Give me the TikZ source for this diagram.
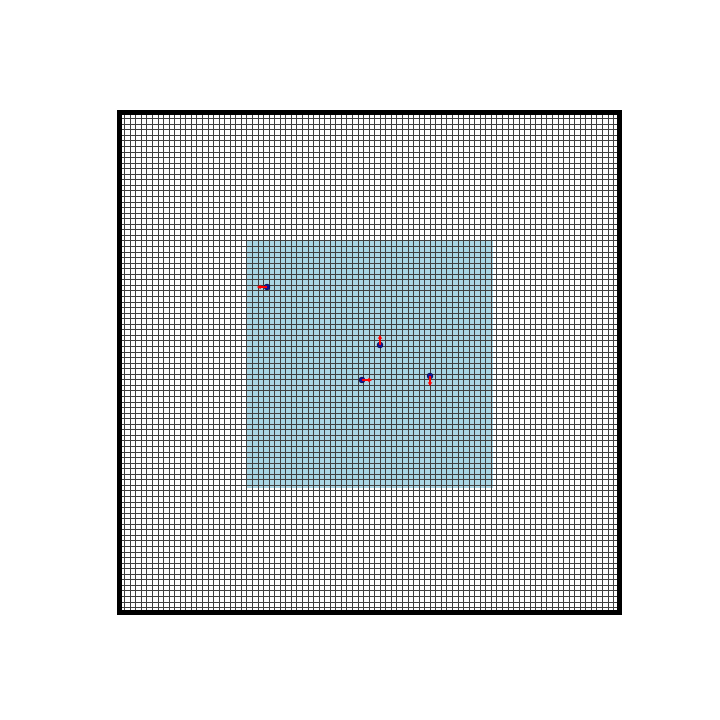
\documentclass[tikz,border=0pt]{standalone}
\usetikzlibrary{arrows.meta}
\definecolor{regionblue}{RGB}{170,214,228}
\definecolor{dotblue}{RGB}{20,20,150}
\tikzset{
  gridline/.style={line width=0.6pt, draw=black!75},
  frame/.style={line width=5pt, draw=black},
  particle/.style={circle, fill=dotblue, draw=black!80!blue, line width=0.4pt, inner sep=0pt, minimum size=6pt},
  vel/.style={draw=red, line width=1.6pt, -{Stealth[length=4pt,width=4.5pt]}}
}
\begin{document}
\begin{tikzpicture}[x=1pt,y=1pt]
\useasboundingbox (0,0) rectangle (720,720);
\fill[white] (0,0) rectangle (720,720);
% highlighted region
\fill[regionblue] (246,232) rectangle (493,479);
% grid (90 x 90 cells)
\foreach \i in {0,...,90} {
  \pgfmathsetmacro{\g}{5.55556*\i}
  \draw[gridline] (119+\g,107) -- (119+\g,607);
  \draw[gridline] (119,107+\g) -- (619,107+\g);
}
% frame
\draw[frame] (119,107) rectangle (619,607);
% particles and velocities
\node[particle] (p1) at (267,433) {};
\coordinate (a1) at (257,433);
\node[particle] (p2) at (380,375) {};
\coordinate (a2) at (380,385);
\node[particle] (p3) at (362,340) {};
\coordinate (a3) at (372,340);
\node[particle] (p4) at (430,344) {};
\coordinate (a4) at (430,334);
\foreach \p/\a in {p1/a1,p2/a2,p3/a3,p4/a4}
  \draw[vel] (\p.center) -- (\a);
\end{tikzpicture}
\end{document}
